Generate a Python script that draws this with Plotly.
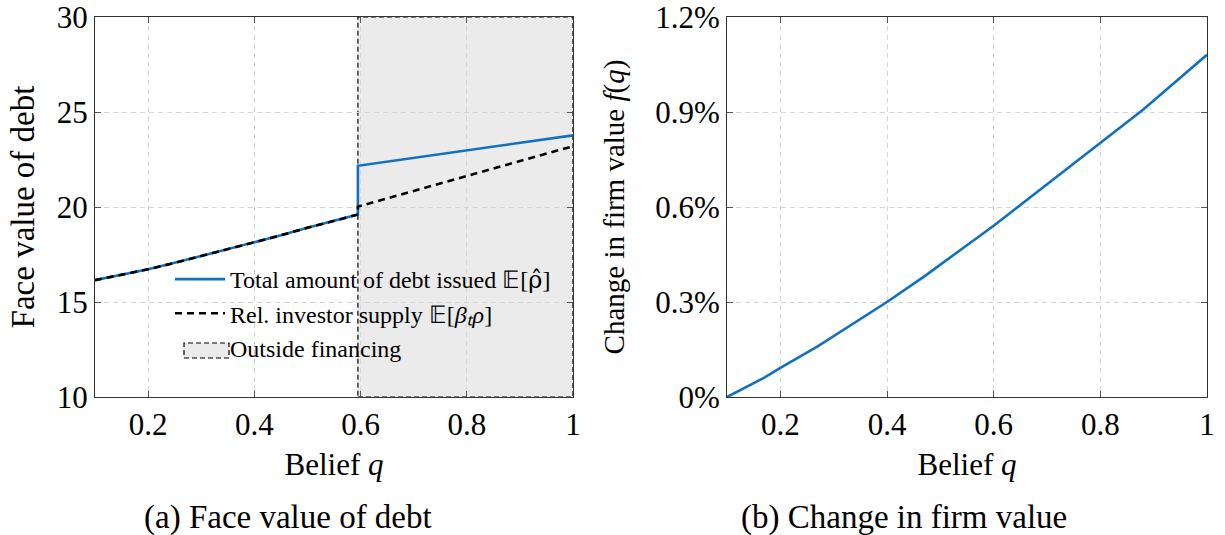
import plotly.graph_objects as go

# ---- data: panel (a) face value of debt ----
q_pre = [0.10, 0.15, 0.20, 0.25, 0.30, 0.35, 0.40, 0.45, 0.50, 0.55, 0.595]
debt_pre = [16.15, 16.42, 16.72, 17.06, 17.42, 17.77, 18.13, 18.51, 18.91, 19.28, 19.60]
q_threshold = 0.595
q_post = [0.595, 1.0]
total_post = [22.17, 23.77]
supply_post = [20.02, 23.20]

# ---- data: panel (b) change in firm value (%) ----
q_f = [0.10, 0.17, 0.20, 0.27, 0.40, 0.47, 0.60, 0.67, 0.80, 0.88, 1.00]
f_vals = [0.000, 0.061, 0.092, 0.160, 0.300, 0.381, 0.541, 0.633, 0.804, 0.907, 1.081]

x_ticks = [0.2, 0.4, 0.6, 0.8, 1.0]
x_ticktext = ["0.2", "0.4", "0.6", "0.8", "1"]
y_ticks_a = [10, 15, 20, 25, 30]
y_ticks_b = [0, 0.3, 0.6, 0.9, 1.2]
y_ticktext_b = ["0%", "0.3%", "0.6%", "0.9%", "1.2%"]

BLUE = "#1170c0"
FONT = "Liberation Serif"
SHADE = "#ebebeb"

fig = go.Figure()

fig.add_trace(go.Scatter(
    x=q_pre + q_post, y=debt_pre + total_post, mode="lines",
    line=dict(color=BLUE, width=2.6),
    name="Total amount of debt issued 𝔼[<span style=\"font-family:DejaVu Serif\">ρ̂</span>]",
    xaxis="x", yaxis="y"))
fig.add_trace(go.Scatter(
    x=q_pre + q_post, y=debt_pre + supply_post, mode="lines",
    line=dict(color="black", width=2.6, dash="7px,5px"),
    name="Rel. investor supply 𝔼[<i>βₜρ</i>]", xaxis="x", yaxis="y"))
# legend row for the shaded region (its key is drawn as a small dashed box below)
fig.add_trace(go.Scatter(
    x=[None], y=[None], mode="lines", line=dict(color="rgba(0,0,0,0)", width=0),
    name="Outside financing", xaxis="x", yaxis="y"))
fig.add_trace(go.Scatter(
    x=q_f, y=f_vals, mode="lines", line=dict(color=BLUE, width=2.6),
    showlegend=False, xaxis="x2", yaxis="y2"))

fig.add_shape(type="rect", xref="x", yref="y",
              x0=q_threshold, x1=q_post[-1], y0=y_ticks_a[0], y1=y_ticks_a[-1],
              fillcolor=SHADE, line=dict(color="black", width=1.2, dash="5px,3px"),
              layer="below")

W, H = 1225, 535
def px_x(p):
    return p / W
def px_y(p):
    return 1 - p / H

# legend key box for "Outside financing"
fig.add_shape(type="rect", xref="paper", yref="paper",
              x0=px_x(184), x1=px_x(229), y0=px_y(358), y1=px_y(343),
              fillcolor=SHADE, line=dict(color="black", width=1.2, dash="5px,3px"))

axis_common = dict(
    showline=True, linecolor="#333", linewidth=1, mirror="ticks",
    ticks="inside", ticklen=6, tickcolor="#555", tickwidth=1,
    showgrid=True, gridcolor="#d6d6d6", gridwidth=1, griddash="5px,4px",
    zeroline=False, automargin=False, ticklabeloverflow="allow",
    tickfont=dict(family=FONT, size=31, color="black"),
)

fig.update_layout(
    width=W, height=H, margin=dict(l=0, r=0, t=0, b=0, autoexpand=False),
    plot_bgcolor="white", paper_bgcolor="white",
    font=dict(family=FONT, color="black"),
    xaxis=dict(domain=[px_x(95), px_x(573)], range=[0.1, 1.0],
               tickvals=x_ticks, ticktext=x_ticktext, anchor="y",
               title=dict(text="Belief <i>q</i>", font=dict(family=FONT, size=31), standoff=12),
               **axis_common),
    yaxis=dict(domain=[px_y(397), px_y(17)], range=[10, 30],
               tickvals=y_ticks_a, anchor="x",
               title=dict(text="Face value of debt", font=dict(family=FONT, size=33), standoff=12),
               **axis_common),
    xaxis2=dict(domain=[px_x(727), px_x(1207)], range=[0.1, 1.0],
                tickvals=x_ticks, ticktext=x_ticktext, anchor="y2",
                title=dict(text="Belief <i>q</i>", font=dict(family=FONT, size=31), standoff=12),
                **axis_common),
    yaxis2=dict(domain=[px_y(397), px_y(17)], range=[0, 1.2],
                tickvals=y_ticks_b, ticktext=y_ticktext_b, anchor="x2",
                title=dict(text="Change in firm value <i>f</i>(<i>q</i>)",
                           font=dict(family=FONT, size=29), standoff=22),
                **axis_common),
    legend=dict(x=px_x(170), y=px_y(257), xanchor="left", yanchor="top",
                bgcolor="rgba(0,0,0,0)", borderwidth=0,
                font=dict(family=FONT, size=24, color="black"),
                itemwidth=50, tracegroupgap=0),
    showlegend=True,
)

fig.add_annotation(text="(a) Face value of debt", xref="paper", yref="paper",
                   x=px_x(288), y=px_y(517), xanchor="center", yanchor="middle",
                   showarrow=False, font=dict(family=FONT, size=33, color="black"))
fig.add_annotation(text="(b) Change in firm value", xref="paper", yref="paper",
                   x=px_x(904), y=px_y(517), xanchor="center", yanchor="middle",
                   showarrow=False, font=dict(family=FONT, size=33, color="black"))

fig.write_html("out.html", config={"displayModeBar": False},
               post_script="document.body.style.margin='0px';")
